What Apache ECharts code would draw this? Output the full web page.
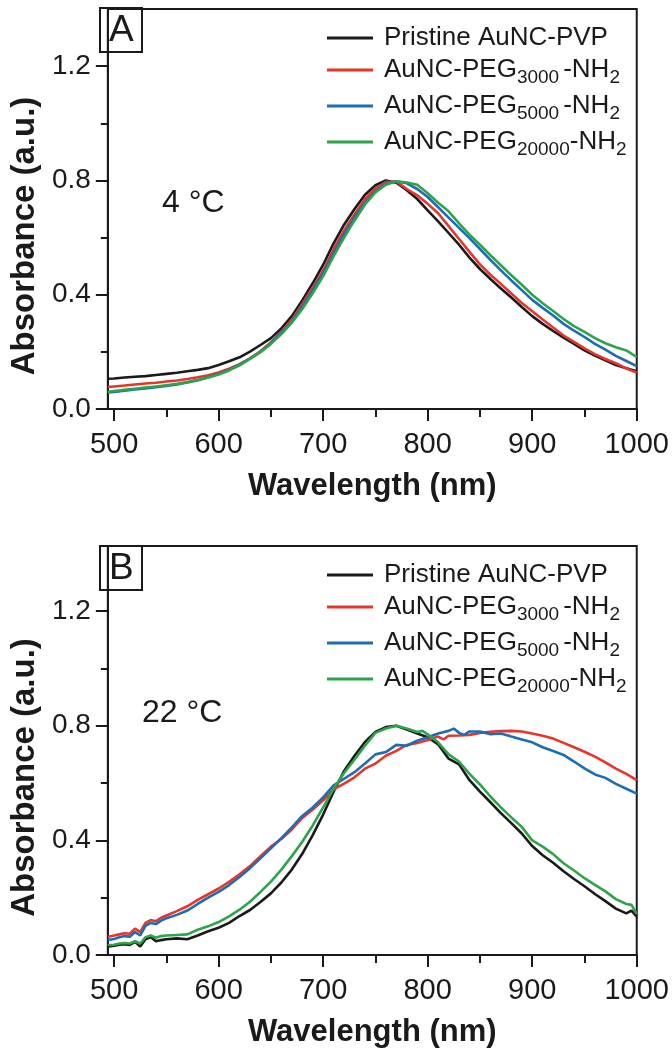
<!DOCTYPE html>
<html>
<head>
<meta charset="utf-8">
<script src="https://cdn.jsdelivr.net/npm/echarts@6/dist/echarts.min.js"></script>
<style>html,body{margin:0;padding:0;background:#fff}#c{width:672px;height:1050px}</style>
</head>
<body>
<div id="c"></div>
<script>
// ---------- data ----------
const seriesNames = ['Pristine AuNC-PVP', 'AuNC-PEG3000-NH2', 'AuNC-PEG5000-NH2', 'AuNC-PEG20000-NH2'];
const seriesColors = ['#1a1a1a', '#e8352c', '#1c6db5', '#2ea44a'];
const xMajorTicks = [500, 600, 700, 800, 900, 1000];
const xMinorTicks = [550, 650, 750, 850, 950];
const yMajorTicks = [0, 0.4, 0.8, 1.2];
const yMinorTicks = [0.2, 0.6, 1.0];

// Panel A (4 °C)
const wlA = [494,500,510,520,530,540,550,560,570,580,590,600,610,620,630,640,650,660,670,680,690,700,710,720,730,740,750,760,770,780,790,800,810,820,830,840,850,860,870,880,890,900,910,920,930,940,950,960,970,980,990,1000];
const blackA = [0.106,0.107,0.110,0.113,0.115,0.119,0.123,0.127,0.132,0.137,0.143,0.154,0.167,0.181,0.201,0.224,0.248,0.282,0.325,0.380,0.440,0.505,0.580,0.645,0.700,0.750,0.783,0.800,0.792,0.766,0.735,0.695,0.657,0.616,0.575,0.530,0.490,0.455,0.422,0.390,0.357,0.325,0.298,0.273,0.250,0.228,0.205,0.187,0.170,0.154,0.143,0.132];
const redA = [0.077,0.079,0.082,0.086,0.089,0.092,0.096,0.100,0.105,0.111,0.118,0.128,0.141,0.157,0.177,0.202,0.234,0.270,0.312,0.368,0.425,0.485,0.560,0.625,0.682,0.735,0.772,0.794,0.796,0.770,0.748,0.718,0.685,0.640,0.595,0.550,0.506,0.470,0.438,0.404,0.371,0.342,0.313,0.285,0.257,0.235,0.212,0.192,0.175,0.160,0.142,0.128];
const blueA = [0.058,0.060,0.064,0.068,0.072,0.076,0.081,0.086,0.093,0.101,0.111,0.123,0.137,0.155,0.176,0.200,0.230,0.265,0.305,0.358,0.415,0.475,0.545,0.612,0.670,0.722,0.762,0.788,0.797,0.790,0.770,0.742,0.706,0.670,0.634,0.598,0.560,0.522,0.485,0.450,0.416,0.382,0.354,0.327,0.298,0.274,0.252,0.228,0.208,0.186,0.168,0.150];
const greenA = [0.060,0.063,0.067,0.071,0.075,0.079,0.083,0.088,0.094,0.101,0.110,0.121,0.135,0.153,0.175,0.199,0.228,0.262,0.302,0.350,0.405,0.465,0.535,0.600,0.660,0.716,0.758,0.785,0.797,0.793,0.785,0.755,0.722,0.692,0.650,0.610,0.575,0.538,0.503,0.468,0.435,0.400,0.370,0.343,0.315,0.290,0.270,0.248,0.230,0.216,0.205,0.182];

// Panel B (22 °C): [wavelength, absorbance]
const blackB = [[494,0.030],[500,0.032],[505,0.036],[510,0.038],[515,0.035],[520,0.046],[525,0.030],[530,0.055],[535,0.063],[540,0.048],[545,0.052],[550,0.055],[560,0.058],[570,0.055],[580,0.068],[590,0.083],[600,0.095],[610,0.112],[620,0.136],[630,0.157],[640,0.185],[650,0.215],[660,0.253],[670,0.298],[680,0.353],[690,0.418],[700,0.490],[710,0.570],[720,0.642],[730,0.695],[740,0.743],[750,0.778],[760,0.795],[770,0.800],[780,0.787],[790,0.773],[800,0.760],[810,0.735],[820,0.685],[830,0.665],[840,0.610],[850,0.570],[860,0.533],[870,0.495],[880,0.460],[890,0.424],[900,0.380],[910,0.348],[920,0.322],[930,0.292],[940,0.265],[950,0.240],[960,0.213],[970,0.188],[980,0.162],[990,0.145],[995,0.155],[1000,0.134]];
const redB = [[494,0.064],[500,0.068],[505,0.072],[510,0.076],[515,0.074],[520,0.092],[525,0.080],[530,0.112],[535,0.122],[540,0.118],[545,0.130],[550,0.138],[560,0.153],[570,0.170],[580,0.192],[590,0.212],[600,0.232],[610,0.255],[620,0.282],[630,0.310],[640,0.345],[650,0.378],[660,0.405],[670,0.438],[680,0.478],[690,0.508],[700,0.540],[710,0.578],[720,0.598],[730,0.620],[740,0.650],[750,0.668],[760,0.695],[770,0.712],[780,0.733],[790,0.740],[800,0.750],[810,0.762],[815,0.752],[820,0.765],[830,0.766],[840,0.768],[850,0.775],[860,0.779],[870,0.781],[880,0.782],[890,0.780],[900,0.773],[910,0.765],[920,0.755],[930,0.740],[940,0.725],[950,0.709],[960,0.692],[970,0.672],[980,0.650],[990,0.632],[1000,0.610]];
const blueB = [[494,0.052],[500,0.056],[505,0.062],[510,0.066],[515,0.064],[520,0.080],[525,0.068],[530,0.102],[535,0.112],[540,0.108],[545,0.120],[550,0.128],[560,0.140],[570,0.155],[580,0.178],[590,0.200],[600,0.220],[610,0.244],[620,0.272],[630,0.303],[640,0.337],[650,0.372],[660,0.408],[670,0.445],[680,0.485],[690,0.515],[700,0.550],[710,0.592],[720,0.615],[730,0.638],[740,0.668],[750,0.700],[760,0.708],[770,0.733],[780,0.730],[790,0.748],[800,0.760],[810,0.773],[820,0.782],[825,0.790],[830,0.775],[835,0.768],[840,0.780],[850,0.780],[860,0.770],[870,0.773],[880,0.762],[890,0.752],[900,0.742],[910,0.725],[920,0.712],[930,0.698],[940,0.675],[950,0.651],[960,0.630],[970,0.618],[980,0.597],[990,0.580],[1000,0.563]];
const greenB = [[494,0.035],[500,0.036],[505,0.040],[510,0.042],[515,0.040],[520,0.048],[525,0.040],[530,0.062],[535,0.068],[540,0.060],[545,0.066],[550,0.068],[560,0.070],[570,0.072],[580,0.088],[590,0.100],[600,0.115],[610,0.135],[620,0.158],[630,0.186],[640,0.220],[650,0.256],[660,0.298],[670,0.345],[680,0.395],[690,0.452],[700,0.515],[710,0.580],[720,0.635],[730,0.682],[740,0.730],[750,0.775],[760,0.790],[770,0.800],[780,0.790],[790,0.778],[795,0.782],[800,0.770],[810,0.742],[820,0.700],[830,0.675],[840,0.632],[850,0.595],[860,0.553],[870,0.515],[880,0.480],[890,0.447],[900,0.400],[910,0.378],[920,0.352],[930,0.320],[940,0.295],[950,0.268],[960,0.245],[970,0.222],[980,0.195],[990,0.178],[995,0.175],[1000,0.143]];

// ---------- build ----------
const FONT = 'Liberation Sans, Arial, Helvetica, sans-serif';
const INK = '#1a1a1a';
const dataA = [blackA, redA, blueA, greenA].map(arr => arr.map((v, i) => [wlA[i], v]));
const dataB = [blackB, redB, blueB, greenB];

function legendFormatter(name) {
  const m = name.match(/^AuNC-PEG(\d+)-NH2$/);
  if (m) {
    const sub = m[1].length > 4 ? 's' : 'sg';
    return '{n|AuNC-PEG}{' + sub + '|' + m[1] + '}{n|-NH}{s|2}';
  }
  return '{n|' + name + '}';
}
const legendRich = {
  n: { fontSize: 26, fontFamily: FONT, color: INK, lineHeight: 28 },
  s: { fontSize: 19, fontFamily: FONT, color: INK, lineHeight: 28, verticalAlign: 'bottom', padding: [0, 0, -3, 0] },
  sg: { fontSize: 19, fontFamily: FONT, color: INK, lineHeight: 28, verticalAlign: 'bottom', padding: [0, 4, -3, 0] }
};

function xAxes(gridIndex) {
  return [{
    gridIndex, type: 'value', min: 494, max: 1000, position: 'bottom',
    axisLine: { show: true, lineStyle: { color: INK, width: 2 } },
    axisTick: { show: true, customValues: xMajorTicks, length: 12, lineStyle: { color: INK, width: 2 } },
    axisLabel: { show: true, customValues: xMajorTicks, fontSize: 29, fontFamily: FONT, color: INK, margin: 21,
      formatter: v => String(v) },
    splitLine: { show: false },
    name: 'Wavelength (nm)', nameLocation: 'middle', nameGap: 62,
    nameTextStyle: { fontSize: 31, fontWeight: 'bold', fontFamily: FONT, color: INK }
  }, {
    gridIndex, type: 'value', min: 494, max: 1000, position: 'bottom', offset: 0,
    axisLine: { show: false },
    axisTick: { show: true, customValues: xMinorTicks, length: 8, lineStyle: { color: INK, width: 2 } },
    axisLabel: { show: false }, splitLine: { show: false }
  }];
}
function yAxes(gridIndex, maxV) {
  return [{
    gridIndex, type: 'value', min: 0, max: maxV, position: 'left',
    axisLine: { show: true, lineStyle: { color: INK, width: 2 } },
    axisTick: { show: true, customValues: yMajorTicks, length: 12, lineStyle: { color: INK, width: 2 } },
    axisLabel: { show: true, customValues: yMajorTicks, fontSize: 28, fontFamily: FONT, color: INK, margin: 17,
      formatter: v => v.toFixed(1) },
    splitLine: { show: false },
    name: 'Absorbance (a.u.)', nameLocation: 'middle', nameGap: 57, nameRotate: 90,
    nameTextStyle: { fontSize: 33, fontWeight: 'bold', fontFamily: FONT, color: INK, padding: [0, 54, 0, 0] }
  }, {
    gridIndex, type: 'value', min: 0, max: maxV, position: 'left', offset: 0,
    axisLine: { show: false },
    axisTick: { show: true, customValues: yMinorTicks, length: 7, lineStyle: { color: INK, width: 2 } },
    axisLabel: { show: false }, splitLine: { show: false }
  }];
}

const series = [];
[dataA, dataB].forEach((panel, p) => {
  panel.forEach((d, i) => {
    series.push({
      name: seriesNames[i], type: 'line', xAxisIndex: p * 2, yAxisIndex: p * 2,
      data: d, showSymbol: false, symbol: 'none', smooth: false, animation: false,
      lineStyle: { color: seriesColors[i], width: 2.6 }, itemStyle: { color: seriesColors[i] }, z: 3 + i
    });
  });
});

function legend(top) {
  return {
    data: seriesNames, orient: 'vertical', left: 322, top, itemWidth: 46, itemHeight: 12, itemGap: 6,
    icon: 'path://M0,0 L46,0 L46,3 L0,3 Z',
    formatter: legendFormatter, textStyle: { rich: legendRich, padding: [0, 0, 0, 6] }, selectedMode: false
  };
}

const panelLabel = (text, top) => ({
  text, left: 100, top, padding: [3, 9, 1, 9], borderColor: INK, borderWidth: 2,
  textStyle: { fontSize: 37, fontWeight: 'normal', fontFamily: FONT, color: INK, lineHeight: 40 }
});
const tempLabel = (text, left, top) => ({
  text, left, top, padding: 0,
  textStyle: { fontSize: 32, fontWeight: 'normal', fontFamily: FONT, color: INK }
});

const option = {
  backgroundColor: '#fff',
  animation: false,
  title: [panelLabel('A', 8), panelLabel('B', 546), tempLabel('4 °C', 162, 187), tempLabel('22 °C', 142, 697)],
  legend: [legend(20), legend(557)],
  grid: [
    { left: 100, top: 9, width: 540, height: 400, show: true, borderColor: INK, borderWidth: 2, backgroundColor: 'transparent' },
    { left: 100, top: 546, width: 540, height: 409, show: true, borderColor: INK, borderWidth: 2, backgroundColor: 'transparent' }
  ],
  xAxis: [...xAxes(0), ...xAxes(1)],
  yAxis: [...yAxes(0, 1.4), ...yAxes(1, 1.427)],
  series
};

const chart = echarts.init(document.getElementById('c'), null, { renderer: 'canvas' });
chart.setOption(option);
</script>
</body>
</html>
